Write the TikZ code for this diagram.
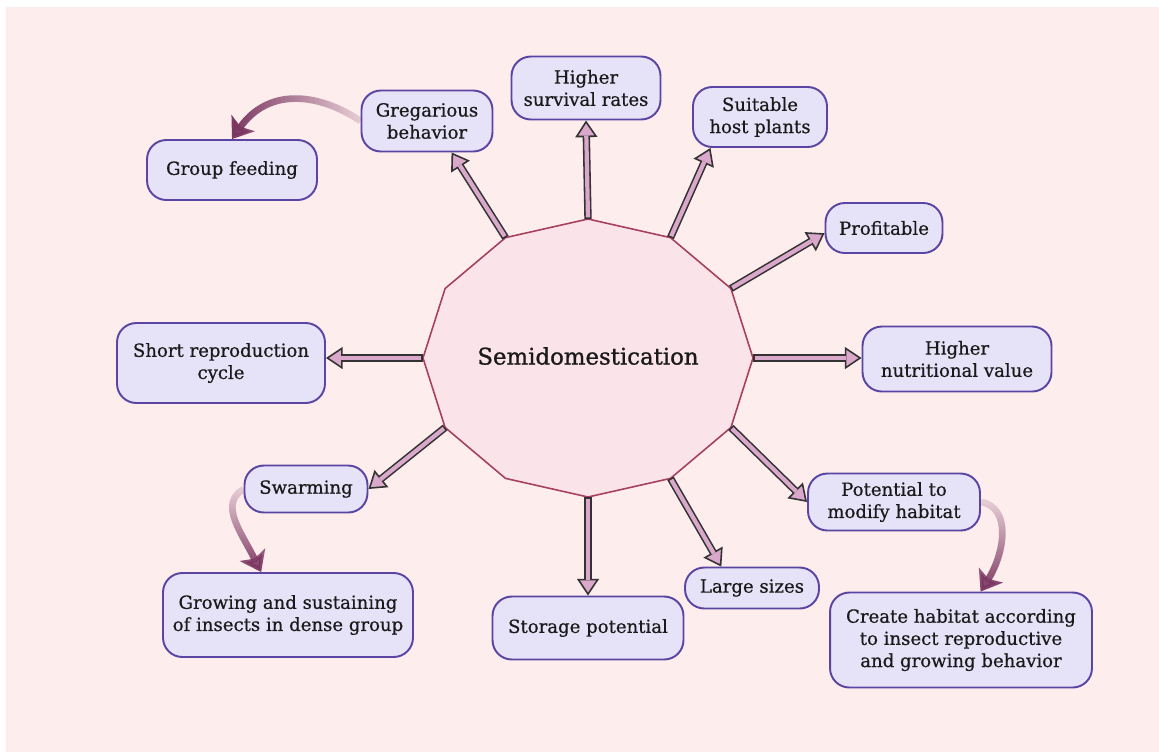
\documentclass[tikz,border=0pt]{standalone}
\usepackage{fontspec}
\setmainfont{DejaVu Serif}
\newfontfamily\boxfont{DejaVu Serif}[FakeBold=0.6]
\newfontfamily\hubfont{DejaVu Serif}[FakeBold=1.1]
\usetikzlibrary{arrows.meta,fadings,calc}
\definecolor{bgpink}{HTML}{FDEDED}
\definecolor{hubfill}{HTML}{FBE3EA}
\definecolor{hubline}{HTML}{A5405F}
\definecolor{boxfill}{HTML}{E6E3F8}
\definecolor{boxline}{HTML}{5B45A3}
\definecolor{arrowfill}{HTML}{DAA8CA}
\definecolor{arrowline}{HTML}{333333}
\definecolor{curvecol}{HTML}{7A3560}
\definecolor{textcol}{HTML}{1A1A1A}

\tikzfading[name=fadeeast, left color=transparent!0, middle color=transparent!0, right color=transparent!85]
\tikzfading[name=fadenorth, bottom color=transparent!0, middle color=transparent!0, top color=transparent!85]

\begin{document}
\begin{tikzpicture}[
x=0.02cm, y=-0.02cm,
font=\boxfont\fontsize{10.3}{12.6}\selectfont,
box/.style={draw=boxline, fill=boxfill, line width=1.1pt, rounded corners=11pt, align=center, text=textcol, inner sep=0pt},
bigarrow/.style={draw=arrowline, line width=4.2pt, -{Triangle[length=9.5pt,width=12.5pt,line width=0.9pt,fill=arrowfill]},
  postaction={draw=arrowfill, line width=2.4pt, -, shorten >=8.6pt, shorten <=0.9pt}},
curvy/.style={draw=curvecol, line width=3.8pt, -{Stealth[length=11pt,width=16pt,inset=2.5pt]}}
]
    % Background
    \fill[white] (0,0) rectangle (1159,752);
    \fill[bgpink] (6,7) rectangle (1159,752);
    \useasboundingbox (0,0) rectangle (1159,752);

    % Hub polygon
    \foreach \k in {0,...,11}
        \coordinate (v\k) at ({588+165*cos(30*\k)},{358-139*sin(30*\k)});
    \draw[fill=hubfill, draw=hubline, line width=0.9pt] (v0) \foreach \k in {1,...,11}{ -- (v\k)} -- cycle;
    \node[text=textcol, font=\hubfont\fontsize{13}{15}\selectfont] (hub) at (588,356) {Semidomestication};

    % Boxes
    \node[box, minimum width=3.4cm, minimum height=1.2cm] (group) at (232,170) {Group feeding};
    \node[box, minimum width=2.62cm, minimum height=1.22cm] (greg) at (427,121) {Gregarious\\behavior};
    \node[box, minimum width=2.98cm, minimum height=1.26cm] (high) at (586,88) {Higher\\survival rates};
    \node[box, minimum width=2.68cm, minimum height=1.2cm] (suit) at (760,117) {Suitable\\host plants};
    \node[box, minimum width=2.34cm, minimum height=1.0cm] (prof) at (884,228) {Profitable};
    \node[box, minimum width=3.78cm, minimum height=1.3cm] (nutr) at (957,359) {Higher\\nutritional value};
    \node[box, minimum width=3.44cm, minimum height=1.14cm] (poten) at (894,502) {Potential to\\modify habitat};
    \node[box, minimum width=5.24cm, minimum height=1.9cm] (create) at (961,640) {Create habitat according\\to insect reproductive\\and growing behavior};
    \node[box, minimum width=2.68cm, minimum height=0.82cm] (large) at (752,588) {Large sizes};
    \node[box, minimum width=3.82cm, minimum height=1.26cm] (stor) at (588,628) {Storage potential};
    \node[box, minimum width=5.0cm, minimum height=1.68cm] (grow) at (288,615) {Growing and sustaining\\of insects in dense group};
    \node[box, minimum width=2.46cm, minimum height=0.94cm] (swarm) at (306,489) {Swarming};
    \node[box, minimum width=4.16cm, minimum height=1.6cm] (short) at (221,363) {Short reproduction\\cycle};

    % Straight arrows from the hub
    \draw[bigarrow] (v0) -- (v0 -| nutr.west);
    \draw[bigarrow] (v1) -- (prof.185);
    \draw[bigarrow] (v2) -- (suit.212);
    \draw[bigarrow] (v3) -- (high.south);
    \draw[bigarrow] (v4) -- (greg.308);
    \draw[bigarrow] (v6) -- (v6 -| short.east);
    \draw[bigarrow] (v7) -- (swarm.east);
    \draw[bigarrow] (v9) -- (stor.north);
    \draw[bigarrow] (v10) -- (large.145);
    \draw[bigarrow] (v11) -- (poten.west);

    % Curved arrows
    \draw[curvy, path fading=fadeeast] (greg.west) .. controls +(-45,-30) and +(35,-50) .. (group.north);
    \draw[curvy, path fading=fadenorth] (swarm.west) .. controls +(-25,15) and +(-20,-40) .. (grow.122);
    \draw[curvy, path fading=fadenorth] (poten.east) .. controls +(30,5) and +(25,-40) .. (create.68);

\end{tikzpicture}
\end{document}
